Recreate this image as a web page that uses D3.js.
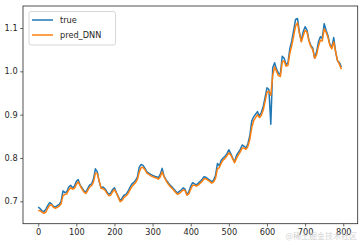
<!DOCTYPE html>
<html><head><meta charset="utf-8">
<script src="https://cdn.jsdelivr.net/npm/d3@7"></script>
<style>body{margin:0;background:#fff}svg{display:block}</style>
</head><body>
<script>
// sample index (every 5th time step)
const stepIndex = d3.range(0, 800, 5);
const trueValues = [
0.687,0.683,0.678,0.676,0.682,0.690,0.697,0.694,0.688,0.687,
0.690,0.693,0.700,0.724,0.720,0.722,0.733,0.737,0.731,0.735,
0.746,0.750,0.737,0.731,0.724,0.721,0.730,0.738,0.740,0.752,
0.775,0.768,0.745,0.731,0.733,0.729,0.722,0.716,0.719,0.727,
0.731,0.720,0.711,0.701,0.707,0.714,0.716,0.722,0.731,0.739,
0.743,0.748,0.756,0.779,0.785,0.783,0.776,0.768,0.765,0.762,
0.760,0.758,0.757,0.754,0.762,0.776,0.758,0.750,0.744,0.738,
0.734,0.729,0.724,0.719,0.723,0.726,0.731,0.728,0.715,0.722,
0.735,0.743,0.740,0.738,0.742,0.746,0.751,0.757,0.755,0.752,
0.749,0.745,0.749,0.760,0.787,0.782,0.795,0.800,0.804,0.810,
0.819,0.810,0.800,0.791,0.806,0.813,0.820,0.830,0.827,0.823,
0.833,0.852,0.885,0.895,0.901,0.907,0.897,0.905,0.918,0.940,
0.962,0.958,0.878,1.008,1.020,1.005,0.996,0.993,1.035,1.030,
1.015,1.020,1.053,1.070,1.095,1.120,1.122,1.090,1.070,1.092,
1.103,1.095,1.072,1.060,1.054,1.030,1.045,1.068,1.080,1.076,
1.110,1.095,1.082,1.062,1.055,1.078,1.045,1.024,1.020,1.010
];
const predValues = [
0.679,0.678,0.675,0.672,0.675,0.684,0.691,0.692,0.686,0.684,
0.686,0.689,0.694,0.713,0.716,0.717,0.726,0.732,0.728,0.730,
0.739,0.745,0.736,0.728,0.721,0.718,0.725,0.733,0.736,0.745,
0.765,0.764,0.746,0.730,0.729,0.726,0.719,0.713,0.714,0.722,
0.727,0.719,0.709,0.699,0.702,0.709,0.712,0.717,0.725,0.733,
0.738,0.743,0.750,0.768,0.778,0.778,0.773,0.765,0.762,0.759,
0.757,0.755,0.754,0.751,0.756,0.768,0.757,0.748,0.741,0.735,
0.731,0.726,0.721,0.716,0.718,0.722,0.726,0.725,0.714,0.717,
0.728,0.737,0.737,0.735,0.738,0.742,0.746,0.752,0.752,0.749,
0.746,0.742,0.745,0.753,0.775,0.778,0.788,0.795,0.799,0.805,
0.812,0.807,0.798,0.789,0.799,0.807,0.814,0.823,0.823,0.820,
0.827,0.843,0.870,0.886,0.893,0.900,0.893,0.898,0.910,0.930,
0.952,0.954,0.945,0.990,1.010,1.000,0.990,0.988,1.022,1.024,
1.012,1.014,1.042,1.060,1.082,1.105,1.112,1.088,1.068,1.082,
1.095,1.090,1.070,1.057,1.050,1.030,1.038,1.058,1.072,1.070,
1.098,1.090,1.078,1.060,1.052,1.068,1.045,1.025,1.016,1.005
];
const xTicks = [0,100,200,300,400,500,600,700,800];
const yTicks = [0.7,0.8,0.9,1.0,1.1];
const seriesNames = ["true","pred_DNN"];
const seriesColors = ["#1f77b4","#ff7f0e"];

const W = 364, H = 246;
const L = 23, T = 6, R = 357.7, B = 223.7;
const svg = d3.select("body").append("svg").attr("width", W).attr("height", H)
  .style("font-family", "'DejaVu Sans', sans-serif");

const x = d3.scaleLinear().domain([-39.9, 837.9]).range([L, R]);
const y = d3.scaleLinear().domain([0.6483, 1.1508]).range([B, T]);

const line = d3.line().x((d,i)=>x(stepIndex[i])).y(d=>y(d));
const plot = svg.append("g");
[trueValues, predValues].forEach((vals, k) => {
  plot.append("path").datum(vals).attr("d", line)
    .attr("fill","none").attr("stroke", seriesColors[k])
    .attr("stroke-width", 1.5).attr("stroke-linejoin","round");
});

const xAxis = svg.append("g").attr("transform", `translate(0,${B})`)
  .call(d3.axisBottom(x).tickValues(xTicks).tickSize(2.8).tickPadding(2.6).tickFormat(d3.format("d")));
const yAxis = svg.append("g").attr("transform", `translate(${L},0)`)
  .call(d3.axisLeft(y).tickValues(yTicks).tickSize(2.8).tickPadding(2.6).tickFormat(d3.format(".1f")));
[xAxis, yAxis].forEach(a => {
  a.select(".domain").remove();
  a.selectAll("text").attr("font-size", "8.2px").attr("fill", "#262626").style("font-family","'DejaVu Sans', sans-serif");
  a.selectAll("line").attr("stroke", "#262626").attr("stroke-width", 0.7);
});

svg.append("rect").attr("x", L).attr("y", T).attr("width", R-L).attr("height", B-T)
  .attr("fill","none").attr("stroke","#262626").attr("stroke-width",0.8);

// legend
const lg = svg.append("g");
lg.append("rect").attr("x", 29).attr("y", 11.5).attr("width", 86.5).attr("height", 33.5)
  .attr("rx", 2).attr("fill","#fff").attr("fill-opacity",0.8).attr("stroke","#cccccc").attr("stroke-width",0.8);
seriesNames.forEach((n, k) => {
  const yy = 20 + k*15;
  lg.append("line").attr("x1", 32).attr("x2", 53).attr("y1", yy).attr("y2", yy)
    .attr("stroke", seriesColors[k]).attr("stroke-width", 1.5);
  lg.append("text").attr("x", 60).attr("y", yy).attr("dy","0.35em")
    .attr("font-size","8.2px").attr("fill","#262626").text(n);
});

// watermark
svg.append("text").attr("x", 357).attr("y", 236).attr("dy","0.35em").attr("text-anchor","end")
  .attr("font-size","8px").attr("fill","#c8c8c8").attr("fill-opacity",0.85)
  .style("font-family","'Noto Sans CJK SC', sans-serif").text("@稀土掘金技术社区");
</script>
</body></html>
